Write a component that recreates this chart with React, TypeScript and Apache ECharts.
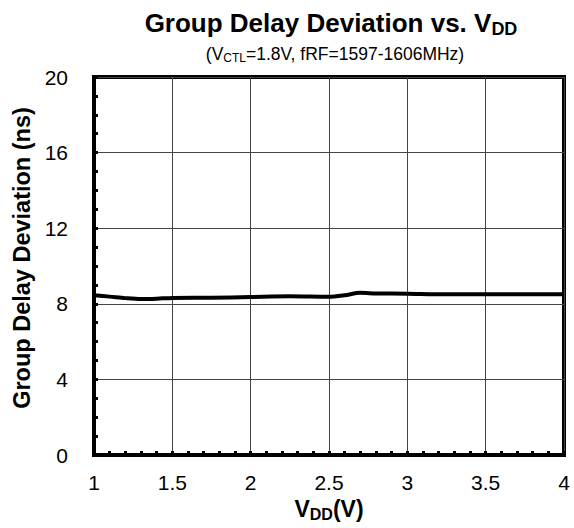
import React, { useEffect, useRef } from "react";
import * as echarts from "echarts";

const vddValues = [1.0, 1.1, 1.2, 1.3, 1.4, 1.5, 1.75, 2.0, 2.25, 2.5, 2.6, 2.7, 2.8, 3.0, 3.25, 3.5, 3.75, 4.0];
const delayValues = [8.45, 8.38, 8.3, 8.25, 8.27, 8.31, 8.32, 8.36, 8.4, 8.37, 8.45, 8.58, 8.55, 8.53, 8.5, 8.5, 8.51, 8.5];

const xTicks = { min: 1, max: 4, interval: 0.5 };
const yTicks = { min: 0, max: 20, interval: 4 };

const FONT = "'Liberation Sans', Arial, Helvetica, sans-serif";

export default function App() {
  const ref = useRef<HTMLDivElement>(null);

  useEffect(() => {
    if (!ref.current) return;
    const chart = echarts.init(ref.current, undefined, { renderer: "svg" });
    const data = vddValues.map((v, i) => [v, delayValues[i]]);
    chart.setOption({
      animation: false,
      backgroundColor: "#ffffff",
      textStyle: { fontFamily: FONT, color: "#000" },
      title: [
        {
          text: "{m|Group Delay Deviation vs. V}{s|DD}",
          left: 326,
          top: 3,
          textAlign: "center",
          textStyle: {
            rich: {
              m: { fontFamily: FONT, fontSize: 26, fontWeight: "bold", color: "#000" },
              s: { fontFamily: FONT, fontSize: 18, fontWeight: "bold", color: "#000", padding: [12, 0, 0, 0] },
            },
          },
        },
        {
          text: "{m|(V}{s|CTL}{m|=1.8V, fRF=1597-1606MHz)}",
          left: 330,
          top: 39,
          textAlign: "center",
          textStyle: {
            fontWeight: "normal",
            rich: {
              m: { fontFamily: FONT, fontSize: 17.5, fontWeight: "normal", color: "#000" },
              s: { fontFamily: FONT, fontSize: 12, fontWeight: "normal", color: "#000", padding: [8, 0, 0, 0] },
            },
          },
        },
      ],
      grid: {
        left: 94,
        right: 10,
        top: 77,
        bottom: 73,
        show: true,
        borderColor: "#000",
        borderWidth: 4,
        containLabel: false,
      },
      xAxis: {
        type: "value",
        min: xTicks.min,
        max: xTicks.max,
        interval: xTicks.interval,
        name: "{m|V}{s|DD}{m|(V)}",
        nameLocation: "middle",
        nameGap: 38,
        nameTextStyle: {
          rich: {
            m: { fontFamily: FONT, fontSize: 23, fontWeight: "bold", color: "#000" },
            s: { fontFamily: FONT, fontSize: 16, fontWeight: "bold", color: "#000", padding: [10, 0, 0, 0] },
          },
        },
        axisLine: { show: true, lineStyle: { color: "#000", width: 4 } },
        axisTick: { show: true, inside: true, length: 4, lineStyle: { color: "#000", width: 3 } },
        minorTick: { show: true, splitNumber: 5, length: 4, lineStyle: { color: "#000", width: 3 } },
        axisLabel: {
          fontSize: 21,
          fontFamily: FONT,
          color: "#000",
          margin: 17,
          formatter: (v: number) => String(v),
        },
        splitLine: { show: true, lineStyle: { color: "#444", width: 1 } },
      },
      yAxis: {
        type: "value",
        min: yTicks.min,
        max: yTicks.max,
        interval: yTicks.interval,
        name: "Group Delay Deviation (ns)",
        nameLocation: "middle",
        nameGap: 36,
        nameTextStyle: { fontFamily: FONT, fontSize: 23.5, fontWeight: "bold", color: "#000", padding: [0, 0, 0, 16] },
        axisLine: { show: true, lineStyle: { color: "#000", width: 4 } },
        axisTick: { show: true, inside: true, length: 4, lineStyle: { color: "#000", width: 3 } },
        minorTick: { show: true, splitNumber: 4, length: 4, lineStyle: { color: "#000", width: 3 } },
        axisLabel: { fontSize: 21, fontFamily: FONT, color: "#000", margin: 26 },
        splitLine: { show: true, lineStyle: { color: "#444", width: 1 } },
      },
      series: [
        {
          type: "line",
          data,
          smooth: 0.3,
          showSymbol: false,
          symbol: "none",
          lineStyle: { color: "#000", width: 4 },
          z: 5,
        },
      ],
    });
    return () => chart.dispose();
  }, []);

  return (
    <div
      ref={ref}
      style={{ position: "absolute", left: 0, top: 0, width: 574, height: 528, background: "#fff" }}
    />
  );
}
